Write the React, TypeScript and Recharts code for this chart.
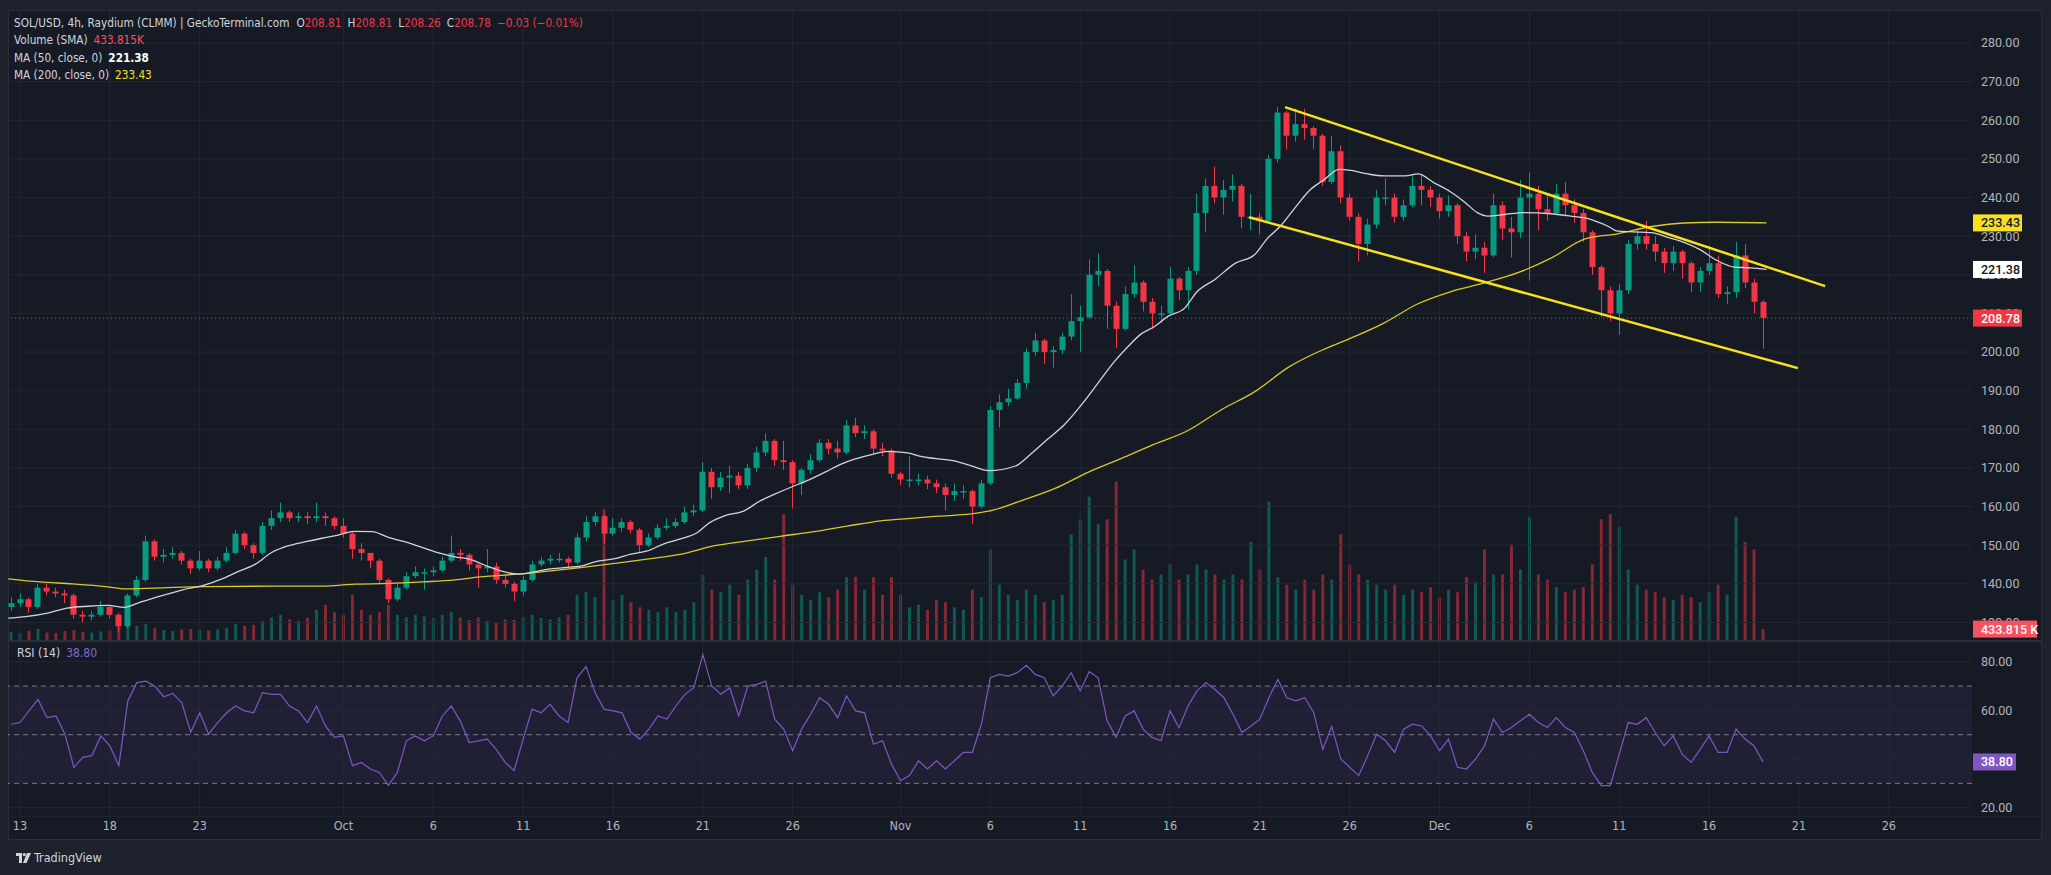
import React from 'react';
import { ComposedChart, Bar, Line, XAxis, YAxis, ReferenceLine, ReferenceArea, Cell } from 'recharts';

// x is in days after Sep 13 00:00.
const firstDay = -0.5;
const stepDays = 0.5;
const firstOpen = 134;

const closes = [
  135, 136, 134, 139, 138, 137.5, 137, 132, 131.5, 132,
  134, 132, 129, 137, 141, 151, 147, 147.5, 148, 146,
  144, 146, 144, 146, 148, 153, 150, 148, 155, 157,
  158.5, 157, 157.5, 157, 157.5, 157, 155, 153, 149, 148,
  146, 141, 136, 139, 142, 143, 143, 143.5, 146, 148,
  147.5, 145, 144, 144.5, 141, 140, 138, 141, 145, 146,
  146.5, 146.5, 145.5, 152, 156, 157.5, 153, 154.5, 156, 154,
  150, 152, 154.5, 155, 156, 158.5, 159, 169, 165, 167.5,
  168, 165.5, 170, 174, 177, 172, 171.5, 166, 169.5, 172,
  176.5, 175, 174, 181, 179, 179.5, 175, 174.5, 168.5, 167,
  167, 167, 166, 165, 163, 164, 164, 160, 166, 185,
  187, 188, 192, 200, 203, 200, 200.5, 204, 208, 209,
  220, 221, 212, 206, 215, 218, 213, 210, 210, 219,
  216, 221, 236, 243, 240, 242, 243, 235, 235, 234,
  250, 262, 256, 259, 258, 256, 244, 252, 240, 235,
  228, 233, 240, 240, 235, 238, 243, 242, 240, 236.5,
  238, 230, 226, 227, 225, 238, 232, 231, 240, 241,
  237, 236, 241, 238, 236, 231, 222, 216, 210, 216,
  228, 230, 228, 226, 223, 226, 223, 218, 221, 223,
  215, 215.5, 225, 218, 213, 208.78,
];

const highs = [
  136.5, 137.5, 136.5, 140, 140, 139, 138.5, 137.5, 133, 133,
  135.5, 134.5, 132.5, 137.5, 142, 152.5, 151.5, 149, 149.5, 148.5,
  146.5, 148.5, 146.5, 147, 149.5, 154, 153.5, 150.5, 156, 159,
  161, 159, 158.5, 158.5, 161, 158.5, 157.5, 157, 153.5, 150.5,
  148, 146.5, 141.5, 140, 143, 144.5, 144, 144.5, 147, 152.5,
  149, 148, 145.5, 149, 145.5, 142, 140.5, 142, 146, 147,
  147.5, 148, 147, 153, 157.5, 158.5, 158, 157, 157, 156.5,
  154.5, 153, 155.5, 157, 157, 160, 160.5, 171.5, 170, 169,
  170.5, 169, 171, 175.5, 179, 177.5, 177, 172, 170, 173.5,
  177.5, 177.5, 177, 182.5, 183, 181, 180, 176.5, 175, 169,
  173, 168.5, 168, 167, 166, 166, 165.5, 164.5, 167, 186,
  189, 190.5, 193, 201, 205, 203.5, 201.5, 205, 215, 212,
  224, 225.5, 221.5, 213, 217, 222.5, 218.5, 214, 212, 222,
  219.5, 222, 241, 245, 248, 244.5, 246, 243.5, 241, 236,
  251, 263.5, 262.5, 263, 263, 258.5, 256.5, 256, 253.5, 241,
  236, 234.5, 242, 245, 241, 239.5, 246, 246, 243, 241,
  240.5, 238.5, 231, 230.5, 228.5, 241, 239, 235, 244.5, 246.5,
  243, 241, 243.5, 244, 239.5, 237, 231.5, 222.5, 217, 217.5,
  229, 232, 234, 230, 227, 227.5, 226.5, 223.5, 222, 227.5,
  225, 217, 228.5, 228, 219, 213.5,
];

const lows = [
  133, 134, 132.5, 133.5, 137, 136.5, 135, 131, 130, 130.5,
  131.5, 131, 127.5, 128.5, 136.5, 140.5, 146, 145.5, 146.5, 145,
  142.5, 143.5, 143, 143.5, 145.5, 147.5, 149, 146.5, 147.5, 154,
  156, 156, 156, 155.5, 156, 155, 154, 152, 146.5, 146,
  144, 140, 135, 135.5, 138.5, 141.5, 138.5, 142, 143, 145.5,
  146, 143.5, 139, 143, 140, 139, 135.5, 137, 140.5, 144.5,
  145, 145.5, 144, 145, 151, 155, 150.5, 152.5, 153.5, 153,
  148, 149.5, 151.5, 154, 154.5, 155.5, 157.5, 158.5, 162, 164,
  163.5, 164.5, 164.5, 169, 173, 170.5, 169.5, 159.5, 163, 168.5,
  171.5, 173.5, 172.5, 173.5, 178, 177.5, 173.5, 173, 167.5, 165.5,
  165, 165.5, 164.5, 163.5, 159, 161.5, 162, 155.5, 159.5, 165.5,
  180.5, 186, 187.5, 190.5, 199, 197, 196, 199.5, 203, 200,
  208.5, 217, 206, 201, 205.5, 214, 210.5, 206, 207.5, 209.5,
  213.5, 211, 220, 231, 238.5, 235.5, 239, 232, 231.5, 230.5,
  233.5, 249, 252.5, 254.5, 255, 252.5, 243, 243.5, 238.5, 234,
  223.5, 225, 232, 238, 233.5, 234, 237.5, 238, 237.5, 234.5,
  235, 228, 223.5, 224, 220.5, 224.5, 229, 224.5, 229.5, 218.5,
  231.5, 234, 235.5, 235, 233.5, 228.5, 220, 209, 208, 204.5,
  215, 226.5, 226.5, 223.5, 220.5, 221, 219, 215.5, 215.5, 220,
  214, 212.5, 214, 216.5, 210, 200.9,
];

// volume in thousands
const volumes = [
  320, 280, 360, 440, 300, 280, 360, 400, 320, 300,
  340, 380, 520, 600, 560, 640, 480, 400, 360, 420,
  440, 400, 380, 420, 480, 640, 560, 600, 760, 900,
  1000, 820, 760, 880, 1200, 1400, 1100, 1000, 1800, 1200,
  1000, 1100, 1400, 1000, 900, 1000, 940, 880, 1000, 1100,
  900, 800, 900, 760, 700, 820, 800, 900, 1000, 880,
  820, 900, 1000, 1800, 1900, 1700, 5200, 1600, 1800, 1500,
  1300, 1200, 1100, 1300, 1100, 1200, 1500, 2600, 2000, 1900,
  2200, 1800, 2400, 2800, 3300, 2400, 5000, 2200, 1800, 1600,
  1900, 1700, 2000, 2500, 2500, 2000, 2500, 1800, 2500, 1800,
  1300, 1400, 1200, 1600, 1500, 1300, 1200, 2000, 1700, 3600,
  2200, 1800, 1600, 2000, 1800, 1500, 1600, 1800, 4200, 4800,
  5700, 4600, 4800, 6300, 3200, 3600, 2800, 2400, 2600, 3000,
  2400, 2600, 3000, 2800, 2600, 2400, 2600, 2400, 3900, 2800,
  5500, 2500, 2200, 2000, 2400, 2000, 2600, 2400, 4200, 3000,
  2600, 2400, 2200, 2000, 2200, 1800, 2000, 1900, 2100, 1700,
  2000, 1900, 2500, 2300, 3600, 2600, 2600, 3800, 2800, 4900,
  2600, 2400, 2100, 1900, 2000, 2100, 3000, 4800, 5000, 4500,
  2800, 2200, 2000, 1900, 1700, 1600, 1800, 1700, 1500, 1900,
  2200, 1800, 4900, 3900, 3600, 433.815,
];

const rsiValues = [
  54.3, 55, 59.8, 64.5, 57, 57.7, 50.2, 36.6, 40.7, 41.4,
  49.5, 45.4, 37.3, 63.9, 71.4, 72, 70, 65.6, 67, 63.2,
  51, 59, 50.2, 55, 59, 61.8, 59.8, 59, 67.3, 66.6,
  66.6, 61.8, 59.8, 55, 61.8, 53.6, 48.9, 49.5, 37.3, 38.6,
  35.9, 34.5, 29.1, 34.5, 47.5, 49.5, 47.5, 49.5, 57.7, 61.8,
  55.7, 46.8, 47.5, 48.2, 44, 38.6, 35.2, 48.2, 60.5, 59,
  62.5, 57.7, 55, 73.4, 78, 67.3, 60.5, 59.8, 59, 51,
  48.2, 52.3, 57.7, 56.4, 61.8, 66.6, 69.3, 83, 70, 66.6,
  69.3, 57.7, 70, 70.7, 72, 56.4, 52.3, 43.4, 52.3, 58.4,
  65.2, 62.5, 57, 65.9, 59.8, 59, 46.1, 47.5, 37.9, 31.1,
  33.2, 39.3, 35.9, 39.3, 35.9, 39.3, 42.7, 42.7, 54.3, 73.4,
  74.8, 74.1, 75.5, 78.5, 74.8, 73.4, 65.9, 70, 75.5, 68,
  75.9, 73.4, 55.7, 48.9, 57.7, 59.8, 52.3, 48.9, 47.5, 59.8,
  52.9, 61.8, 68, 71.4, 68.6, 65.2, 58.4, 50.9, 53.6, 56.4,
  65.2, 72.7, 65.2, 63.9, 65.2, 59, 44, 53.4, 40, 36.6,
  33.2, 41.4, 50.2, 47.5, 42.7, 52.3, 54.3, 53.6, 49.5, 43.4,
  48.2, 36.6, 35.9, 40, 45.4, 56.4, 50.9, 53, 55.7, 58.4,
  55, 53, 57, 53, 50.9, 43.4, 34.5, 29.1, 29.1, 42,
  55, 54.3, 57, 50.9, 45.4, 49.5, 42, 38.6, 44, 49.5,
  42.7, 42.7, 52.3, 48.2, 45.4, 38.8,
];

// [day, value]
const ma50Points = [
  [-0.65, 131.1], [0.3, 131.5], [1.6, 132.5], [2.6, 133.7], [3.8, 134.2], [4.9, 134.4], [5.8, 133.9],
  [6.6, 135.1], [7.7, 136.7], [9, 138.4], [10.3, 139.7], [11.2, 141.2], [12.2, 143.3], [13.1, 145.1],
  [14, 148.1], [14.9, 149.8], [15.9, 150.9], [16.8, 151.8], [17.7, 152.6], [18.6, 153.6], [19.6, 153.5],
  [20.5, 152], [21.4, 150.9], [22.4, 149.4], [23.3, 148], [24.2, 147], [25, 146.4], [26, 144.6],
  [26.8, 143.3], [27.7, 142.5], [28.4, 142.9], [29.4, 143.8], [30.3, 144.2], [31.2, 144.6], [32, 145.7],
  [33.1, 146.5], [34, 147.7], [34.9, 148.5], [35.8, 150.3], [36.8, 151.7], [37.7, 153.3], [38.4, 155.9],
  [39.2, 157.6], [40.3, 158.9], [41.2, 161.5], [42, 163.2], [42.9, 165], [43.8, 166.7], [44.8, 168.9],
  [45.7, 171], [46.4, 172.2], [47.5, 173.6], [48.3, 174.3], [49.4, 173.9], [50.2, 172.9], [52, 171.8],
  [52.9, 170.6], [53.9, 169.3], [55.4, 170.5], [56.3, 173.8], [57.2, 177.5], [58.1, 181.1], [59.1, 186.5],
  [60, 192], [60.9, 197.5], [61.6, 201.1], [62.4, 204.7], [63.1, 206.5], [63.9, 209.3], [64.8, 211.3],
  [65.5, 215.6], [66.5, 218.8], [67.6, 222.9], [68.7, 225.2], [69.4, 229.3], [70.2, 232.9], [70.9, 237],
  [71.8, 242], [72.6, 244.7], [73.4, 247.3], [74.1, 247], [75, 246.1], [75.9, 245.6], [77.1, 245.6],
  [77.8, 246.1], [78.7, 243.8], [79.6, 241.5], [80.4, 238.8], [81.1, 236.1], [81.7, 235.2], [82.6, 235.6],
  [83.7, 236.1], [85.2, 235.8], [86.3, 235.2], [87.1, 234.7], [87.6, 234], [88.4, 232.5], [88.9, 231.3],
  [89.8, 231.1], [90.8, 230.9], [91.7, 229.7], [92.6, 228.4], [93.5, 226.5], [94.4, 223.8], [95.4, 222],
  [96.3, 221.8], [97.2, 221.38],
];

const ma200Points = [
  [-0.65, 141.3], [1.1, 140.5], [2.9, 140], [4.8, 139.3], [5.9, 138.7], [7.5, 138.9], [10.3, 139.3],
  [14, 139.4], [16.8, 139.4], [18.6, 139.9], [20.5, 140.1], [22.4, 140.5], [24.2, 141], [25.6, 141.8],
  [27.7, 142.5], [29.4, 143.3], [31.2, 144.2], [33.1, 145.3], [34.9, 146.4], [36.8, 147.7], [38.6, 149.8],
  [40.5, 151.1], [42.3, 152.3], [44.2, 153.5], [46.1, 155], [47.9, 156.3], [49.4, 156.9], [51.1, 157.5],
  [52.9, 158.1], [53.9, 158.8], [55.7, 161.5], [57.6, 164.7], [59.4, 168.8], [61.3, 172.5], [63.1, 176.1],
  [65, 179.7], [66.9, 185.2], [68.7, 189.7], [70.6, 196.1], [72.5, 200.6], [73.7, 202.9], [75.9, 207.5],
  [77.8, 212.5], [79.6, 215.6], [81.5, 217.9], [83.4, 220.6], [85.2, 224.3], [87.1, 229.3], [88.9, 230.6],
  [90.8, 232.5], [92.6, 233.4], [94.4, 233.6], [97.2, 233.43],
];

// channel drawn on the chart: [day, price] start and end
const upperChannel = [[70.4, 263.4], [100.46, 217.05]];
const lowerChannel = [[68.4, 234.9], [98.94, 195.84]];

const priceTicks = [130, 140, 150, 160, 170, 180, 190, 200, 210, 220, 230, 240, 250, 260, 270, 280];
const rsiGrid = [20, 40, 60, 80];
const rsiTicks = [20, 60, 80];
const rsiBands = [30, 50, 70];
const dateTicks = [0, 5, 10, 18, 23, 28, 33, 38, 43, 49, 54, 59, 64, 69, 74, 79, 84, 89, 94, 99, 104];
const dateLabels = ['13', '18', '23', 'Oct', '6', '11', '16', '21', '26', 'Nov', '6', '11', '16', '21', '26', 'Dec', '6', '11', '16', '21', '26'];

const lastClose = 208.78;
const lastMa50 = 221.38;
const lastMa200 = 233.43;
const lastVolume = 433.815;
const lastRsi = 38.8;

// ---- styling ----
const GREEN = '#089981';
const RED = '#f23645';
const GRID = '#232733';
const PANE = '#161a25';
const AXIS_TEXT = '#b2b5be';
const NARROW = '"Liberation Sans Narrow", "DejaVu Sans Condensed", "Roboto", sans-serif';

const CHART_W = 2033;
const AXIS_W = 69;
const PRICE_H = 630;
const RSI_H = 196;
const xDomain = [-0.668, 108.63];
const priceDomain = [125.46, 288.54];
const volDomain = [0, 25040];
const rsiDomain = [16.59, 88.1];

const candles = closes.map((c, i) => {
  const o = i === 0 ? firstOpen : closes[i - 1];
  return {
    day: firstDay + i * stepDays,
    o,
    c,
    h: highs[i],
    l: lows[i],
    range: [lows[i], highs[i]],
    v: volumes[i],
    rsi: rsiValues[i],
    up: c >= o,
  };
});

const ma50Data = ma50Points.map(([day, value]) => ({ day, value }));
const ma200Data = ma200Points.map(([day, value]) => ({ day, value }));

const Candle = (props: any) => {
  const { x, y, width, height, payload } = props;
  if (!payload || x == null || y == null) return null;
  const top = Math.min(y, y + height);
  const full = Math.abs(height);
  const k = full / Math.max(payload.h - payload.l, 0.0001);
  const yOpen = top + (payload.h - payload.o) * k;
  const yClose = top + (payload.h - payload.c) * k;
  const color = payload.up ? GREEN : RED;
  const bodyTop = Math.min(yOpen, yClose);
  const bodyH = Math.max(1.5, Math.abs(yClose - yOpen));
  const cx = Math.round(x + width / 2) + 0.5;
  return (
    <g>
      <line x1={cx} x2={cx} y1={top} y2={top + full} stroke={color} strokeWidth={1} />
      <rect x={cx - width / 2} y={bodyTop} width={width} height={bodyH} fill={color} />
    </g>
  );
};

const Tag = (props: any) => {
  const { viewBox, text, bg, fg, w } = props;
  if (!viewBox) return null;
  const yy = viewBox.y + (viewBox.height || 0) / 2;
  const xx = viewBox.x + viewBox.width + 1;
  return (
    <g>
      <rect x={xx} y={yy - 8.5} width={w} height={17} fill={bg} />
      <text x={xx + 8} y={yy} dy="0.36em" fill={fg} fontSize={12.5} fontFamily="Roboto" fontWeight={500}>
        {text}
      </text>
    </g>
  );
};

const fmtDate = (v: number) => {
  const i = dateTicks.indexOf(v);
  return i >= 0 ? dateLabels[i] : '';
};

const legendRow: React.CSSProperties = { height: 17.3, whiteSpace: 'nowrap' };
const gap = { marginLeft: 6 };
const layer: React.CSSProperties = { position: 'absolute', left: 8, top: 10 };

const App = () => {
  return (
    <div
      style={{
        position: 'absolute',
        left: 0,
        top: 0,
        width: 2051,
        height: 875,
        background: '#1e222d',
        overflow: 'hidden',
      }}
    >
      <div
        style={{
          position: 'absolute',
          left: 8,
          top: 10,
          width: 2034,
          height: 830,
          background: PANE,
          border: '1px solid #2a2e39',
          boxSizing: 'border-box',
        }}
      />

      {/* price pane: grid, axis, volume */}
      <div style={layer}>
        <ComposedChart width={CHART_W} height={PRICE_H} data={candles} margin={{ top: 0, right: 0, bottom: 0, left: 0 }}>
          <XAxis dataKey="day" type="number" domain={xDomain} allowDataOverflow hide />
          <YAxis
            yAxisId="price"
            orientation="right"
            domain={priceDomain}
            allowDataOverflow
            ticks={priceTicks}
            interval={0}
            width={AXIS_W}
            tickLine={false}
            axisLine={false}
            tickSize={0}
            tickMargin={9}
            tick={{ fill: AXIS_TEXT, fontSize: 12.5, fontFamily: 'Roboto' }}
            tickFormatter={(v: number) => v.toFixed(2)}
          />
          <YAxis yAxisId="vol" hide domain={volDomain} allowDataOverflow />
          {priceTicks.map((p) => (
            <ReferenceLine key={'hp' + p} yAxisId="price" y={p} stroke={GRID} strokeWidth={1} />
          ))}
          {dateTicks.map((d) => (
            <ReferenceLine key={'vp' + d} yAxisId="price" x={d} stroke={GRID} strokeWidth={1} />
          ))}
          <ReferenceLine yAxisId="price" y={lastClose} stroke={RED} strokeDasharray="1 3" strokeWidth={1} />
          <Bar yAxisId="vol" dataKey="v" barSize={3} isAnimationActive={false}>
            {candles.map((c, i) => (
              <Cell key={i} fill={c.up ? GREEN : RED} fillOpacity={0.5} />
            ))}
          </Bar>
        </ComposedChart>
      </div>

      {/* price pane: candles only */}
      <div style={layer}>
        <ComposedChart width={CHART_W} height={PRICE_H} data={candles} margin={{ top: 0, right: AXIS_W, bottom: 0, left: 0 }}>
          <XAxis dataKey="day" type="number" domain={xDomain} allowDataOverflow hide />
          <YAxis yAxisId="price" hide domain={priceDomain} allowDataOverflow />
          <Bar yAxisId="price" dataKey="range" barSize={6} shape={<Candle />} isAnimationActive={false} />
        </ComposedChart>
      </div>

      {/* price pane: averages, channel, tags */}
      <div style={layer}>
        <ComposedChart width={CHART_W} height={PRICE_H} margin={{ top: 0, right: AXIS_W, bottom: 0, left: 0 }}>
          <XAxis dataKey="day" type="number" domain={xDomain} allowDataOverflow hide />
          <YAxis yAxisId="price" hide domain={priceDomain} allowDataOverflow />
          <YAxis yAxisId="vol" hide domain={volDomain} allowDataOverflow />
          <Line
            yAxisId="price"
            data={ma200Data}
            dataKey="value"
            type="monotone"
            stroke="#d9c82b"
            strokeWidth={1.3}
            dot={false}
            isAnimationActive={false}
          />
          <Line
            yAxisId="price"
            data={ma50Data}
            dataKey="value"
            type="monotone"
            stroke="#d1d4dc"
            strokeWidth={1.3}
            dot={false}
            isAnimationActive={false}
          />
          <ReferenceLine
            yAxisId="price"
            segment={[
              { x: upperChannel[0][0], y: upperChannel[0][1] },
              { x: upperChannel[1][0], y: upperChannel[1][1] },
            ]}
            stroke="#f7e21b"
            strokeWidth={2.5}
          />
          <ReferenceLine
            yAxisId="price"
            segment={[
              { x: lowerChannel[0][0], y: lowerChannel[0][1] },
              { x: lowerChannel[1][0], y: lowerChannel[1][1] },
            ]}
            stroke="#f7e21b"
            strokeWidth={2.5}
          />
          <ReferenceLine
            yAxisId="price"
            y={lastMa200}
            stroke="none"
            label={<Tag text={lastMa200.toFixed(2)} bg="#f7e01f" fg="#131722" w={49} />}
          />
          <ReferenceLine
            yAxisId="price"
            y={lastMa50}
            stroke="none"
            label={<Tag text={lastMa50.toFixed(2)} bg="#ffffff" fg="#131722" w={49} />}
          />
          <ReferenceLine
            yAxisId="price"
            y={lastClose}
            stroke="none"
            label={<Tag text={lastClose.toFixed(2)} bg={RED} fg="#ffffff" w={49} />}
          />
          <ReferenceLine
            yAxisId="vol"
            y={lastVolume}
            stroke="none"
            label={<Tag text={lastVolume.toFixed(3) + ' K'} bg="#f7525f" fg="#ffffff" w={64} />}
          />
        </ComposedChart>
      </div>

      {/* pane separator */}
      <div style={{ position: 'absolute', left: 8, top: 640, width: 2034, height: 2, background: '#2a2e39' }} />

      {/* RSI pane + time axis */}
      <div style={{ position: 'absolute', left: 8, top: 642 }}>
        <ComposedChart width={CHART_W} height={RSI_H} data={candles} margin={{ top: 0, right: 0, bottom: 0, left: 0 }}>
          <XAxis
            dataKey="day"
            type="number"
            domain={xDomain}
            allowDataOverflow
            ticks={dateTicks}
            interval={0}
            tickFormatter={fmtDate}
            height={22}
            tickLine={false}
            axisLine={false}
            tickSize={0}
            tickMargin={5}
            tick={{ fill: AXIS_TEXT, fontSize: 12.5, fontFamily: NARROW }}
          />
          <YAxis
            yAxisId="rsi"
            orientation="right"
            domain={rsiDomain}
            allowDataOverflow
            ticks={rsiTicks}
            interval={0}
            width={AXIS_W}
            tickLine={false}
            axisLine={false}
            tickSize={0}
            tickMargin={9}
            tick={{ fill: AXIS_TEXT, fontSize: 12.5, fontFamily: 'Roboto' }}
            tickFormatter={(v: number) => v.toFixed(2)}
          />
          <ReferenceArea yAxisId="rsi" y1={30} y2={70} fill="#7e57c2" fillOpacity={0.1} stroke="none" />
          {rsiGrid.map((r) => (
            <ReferenceLine key={'hr' + r} yAxisId="rsi" y={r} stroke={GRID} strokeWidth={1} />
          ))}
          {dateTicks.map((d) => (
            <ReferenceLine key={'vr' + d} yAxisId="rsi" x={d} stroke={GRID} strokeWidth={1} />
          ))}
          {rsiBands.map((r) => (
            <ReferenceLine key={'br' + r} yAxisId="rsi" y={r} stroke="#787b86" strokeDasharray="5 4" strokeWidth={1} />
          ))}
          <Line
            yAxisId="rsi"
            dataKey="rsi"
            type="linear"
            stroke="#7e57c2"
            strokeWidth={1.2}
            dot={false}
            isAnimationActive={false}
          />
          <ReferenceLine
            yAxisId="rsi"
            y={lastRsi}
            stroke="none"
            label={<Tag text={lastRsi.toFixed(2)} bg="#7e57c2" fg="#ffffff" w={43} />}
          />
        </ComposedChart>
      </div>

      {/* time axis top border */}
      <div style={{ position: 'absolute', left: 8, top: 816, width: 2034, height: 1, background: '#1f232e' }} />

      {/* legends */}
      <div
        style={{
          position: 'absolute',
          left: 14,
          top: 15,
          fontFamily: NARROW,
          fontSize: 11.7,
          color: '#d1d4dc',
          lineHeight: '17.3px',
        }}
      >
        <div style={legendRow}>
          <span>SOL/USD, 4h, Raydium (CLMM) | GeckoTerminal.com</span>
          <span style={{ marginLeft: 7 }}>O<span style={{ color: RED }}>208.81</span></span>
          <span style={gap}>H<span style={{ color: RED }}>208.81</span></span>
          <span style={gap}>L<span style={{ color: RED }}>208.26</span></span>
          <span style={gap}>C<span style={{ color: RED }}>208.78</span></span>
          <span style={{ marginLeft: 6, color: RED }}>−0.03 (−0.01%)</span>
        </div>
        <div style={legendRow}>
          <span>Volume (SMA)</span>
          <span style={{ marginLeft: 6, color: '#f7525f' }}>433.815K</span>
        </div>
        <div style={legendRow}>
          <span>MA (50, close, 0)</span>
          <span style={{ marginLeft: 6, color: '#ffffff', fontWeight: 700 }}>221.38</span>
        </div>
        <div style={legendRow}>
          <span>MA (200, close, 0)</span>
          <span style={{ marginLeft: 6, color: '#f7e01f' }}>233.43</span>
        </div>
      </div>

      <div
        style={{
          position: 'absolute',
          left: 17,
          top: 645,
          fontFamily: NARROW,
          fontSize: 12,
          color: '#d1d4dc',
          lineHeight: '17px',
          whiteSpace: 'nowrap',
        }}
      >
        <span>RSI (14)</span>
        <span style={{ marginLeft: 6, color: '#8a63d2' }}>38.80</span>
      </div>

      {/* footer */}
      <div
        style={{
          position: 'absolute',
          left: 16,
          top: 850,
          display: 'flex',
          alignItems: 'center',
          fontFamily: NARROW,
          fontSize: 12.5,
          color: '#d1d4dc',
        }}
      >
        <svg width={15} height={10} viewBox="0 0 15 10">
          <path d="M0 0 H6 V10 H3 V3 H0 Z" fill="#d1d4dc" />
          <circle cx={8.3} cy={1.6} r={1.6} fill="#d1d4dc" />
          <path d="M11 0 H15 L10.5 10 H7 Z" fill="#d1d4dc" />
        </svg>
        <span style={{ marginLeft: 3 }}>TradingView</span>
      </div>
    </div>
  );
};

export default App;
